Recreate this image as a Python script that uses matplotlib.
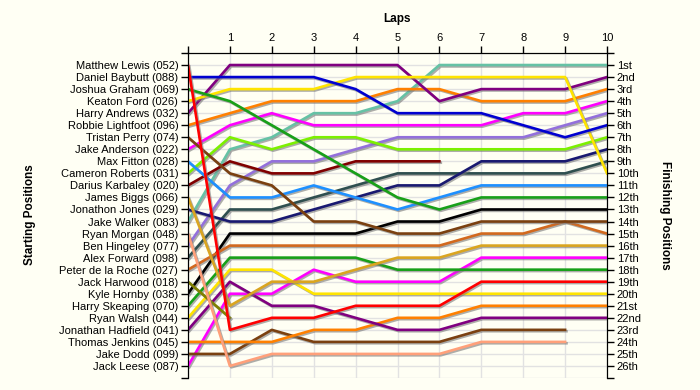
import matplotlib.pyplot as plt
import matplotlib.patheffects as pe

plt.rcParams["font.family"] = ["Liberation Sans", "DejaVu Sans"]

laps = list(range(11))

drivers = ["Matthew Lewis (052)", "Daniel Baybutt (088)", "Joshua Graham (069)",
           "Keaton Ford (026)", "Harry Andrews (032)", "Robbie Lightfoot (096)",
           "Tristan Perry (074)", "Jake Anderson (022)", "Max Fitton (028)",
           "Cameron Roberts (031)", "Darius Karbaley (020)", "James Biggs (066)",
           "Jonathon Jones (029)", "Jake Walker (083)", "Ryan Morgan (048)",
           "Ben Hingeley (077)", "Alex Forward (098)", "Peter de la Roche (027)",
           "Jack Harwood (018)", "Kyle Hornby (038)", "Harry Skeaping (070)",
           "Ryan Walsh (044)", "Jonathan Hadfield (041)", "Thomas Jenkins (045)",
           "Jake Dodd (099)", "Jack Leese (087)"]

finish_labels = ["1st", "2nd", "3rd"] + [str(i) + "th" for i in range(4, 21)] + \
                ["21st", "22nd", "23rd", "24th", "25th", "26th"]

# position at each lap (lap 0 = grid), shorter list = retired
lewis = [1, 23, 22, 22, 21, 21, 21, 19, 19, 19, 19]
baybutt = [2, 2, 2, 2, 3, 5, 5, 5, 6, 7, 6]
graham = [3, 4, 6, 8, 10, 12, 13, 12, 12, 12, 12]
ford = [4, 3, 3, 3, 2, 2, 2, 2, 2, 2, 10]
andrews = [5, 1, 1, 1, 1, 1, 4, 3, 3, 3, 2]
lightfoot = [6, 5, 4, 4, 4, 3, 3, 4, 4, 4, 3]
perry = [7, 10, 11, 14, 14, 15, 15, 14, 14, 14, 14]
anderson = [8, 6, 5, 6, 6, 6, 6, 6, 5, 5, 4]
fitton = [9, 12, 12, 11, 12, 13, 12, 11, 11, 11, 11]
roberts = [10, 7, 8, 7, 7, 8, 8, 8, 8, 8, 7]
karbaley = [11, 9, 10, 10, 9, 9, 9]
biggs = [12, 21, 19, 19, 18, 17, 17, 16, 16, 16, 16]
jones = [13, 14, 14, 13, 12, 11, 11, 9, 9, 9, 8]
walker = [14, 8, 7, 5, 5, 4, 1, 1, 1, 1, 1]
morgan = [15, 26, 25, 25, 25, 25, 25, 24, 24, 24]
hingeley = [16, 11, 9, 9, 8, 7, 7, 7, 7, 6, 5]
forward = [17, 13, 13, 12, 11, 10, 10, 10, 10, 10, 9]
roche = [18, 16, 16, 16, 16, 16, 16, 15, 15, 14, 15]
harwood = [19, 22]
hornby = [20, 15, 15, 15, 15, 14, 14, 13, 13, 13, 13]
skeaping = [21, 17, 17, 17, 17, 18, 18, 18, 18, 18, 18]
walsh = [22, 18, 18, 20, 20, 20, 20, 20, 20, 20, 20]
hadfield = [23, 19, 21, 21, 22, 23, 23, 22, 22, 22, 22]
jenkins = [24, 24, 24, 23, 23, 22, 22, 21, 21, 21, 21]
dodd = [25, 25, 23, 24, 24, 24, 24, 23, 23, 23]
leese = [26, 20, 20, 18, 19, 19, 19, 17, 17, 17, 17]

positions = [lewis, baybutt, graham, ford, andrews, lightfoot, perry, anderson,
             fitton, roberts, karbaley, biggs, jones, walker, morgan, hingeley,
             forward, roche, harwood, hornby, skeaping, walsh, hadfield, jenkins,
             dodd, leese]

colors = ["#ff0000", "#0000d0", "#18a018", "#ffe400", "#800080", "#ff8000",
          "#7a4010", "#ff00ff", "#1e90ff", "#7cf000", "#800000", "#daa520",
          "#191970", "#66c2a5", "#ffa07a", "#9370db", "#2f4f4f", "#d2691e",
          "#808000", "#000000", "#18a018", "#ffe400", "#800080", "#ff8000",
          "#7a4010", "#ff00ff"]

bg = "#fffff4"
fig = plt.figure(figsize=(7, 3.9), dpi=100, facecolor=bg)
ax = fig.add_axes([188 / 700, 12 / 390, 419 / 700, 325 / 390])
ax.set_facecolor(bg)

shadow = [pe.SimpleLineShadow(offset=(1, -1), shadow_color="#777777", alpha=0.6), pe.Normal()]
for pos, c in reversed(list(zip(positions, colors))):
    ax.plot(laps[:len(pos)], pos, color=c, lw=1.9, path_effects=shadow, zorder=3)

ax.set_xlim(0, 10)
ax.set_ylim(27, 0)
ax.xaxis.tick_top()
ax.set_xticks(laps)
ax.set_xticklabels([""] + [str(i) for i in laps[1:]])
ax.set_yticks(range(28))
ax.set_yticklabels([""] + drivers + [""])
ax.grid(color="#e2e2e2", lw=1, zorder=0)
ax.spines["bottom"].set_visible(False)
ax.tick_params(axis="both", direction="out", length=5, width=1, labelsize=8, pad=2)

ax2 = ax.twinx()
ax2.set_ylim(27, 0)
ax2.set_yticks(range(28))
ax2.set_yticklabels([""] + finish_labels + [""])
ax2.spines["bottom"].set_visible(False)
ax2.tick_params(axis="y", direction="out", length=5, width=1, labelsize=8, pad=2)

fig.text(397 / 700, 1 - 19 / 390, "Laps", ha="center", va="center", fontsize=8.5, fontweight="bold")
fig.text(30 / 700, 1 - 215 / 390, "Starting Positions", ha="center", va="center",
         rotation=90, fontsize=8.5, fontweight="bold")
fig.text(665 / 700, 1 - 215 / 390, "Finishing Positions", ha="center", va="center",
         rotation=270, fontsize=8.5, fontweight="bold")

fig.savefig("out.png", dpi=100, facecolor=bg)
